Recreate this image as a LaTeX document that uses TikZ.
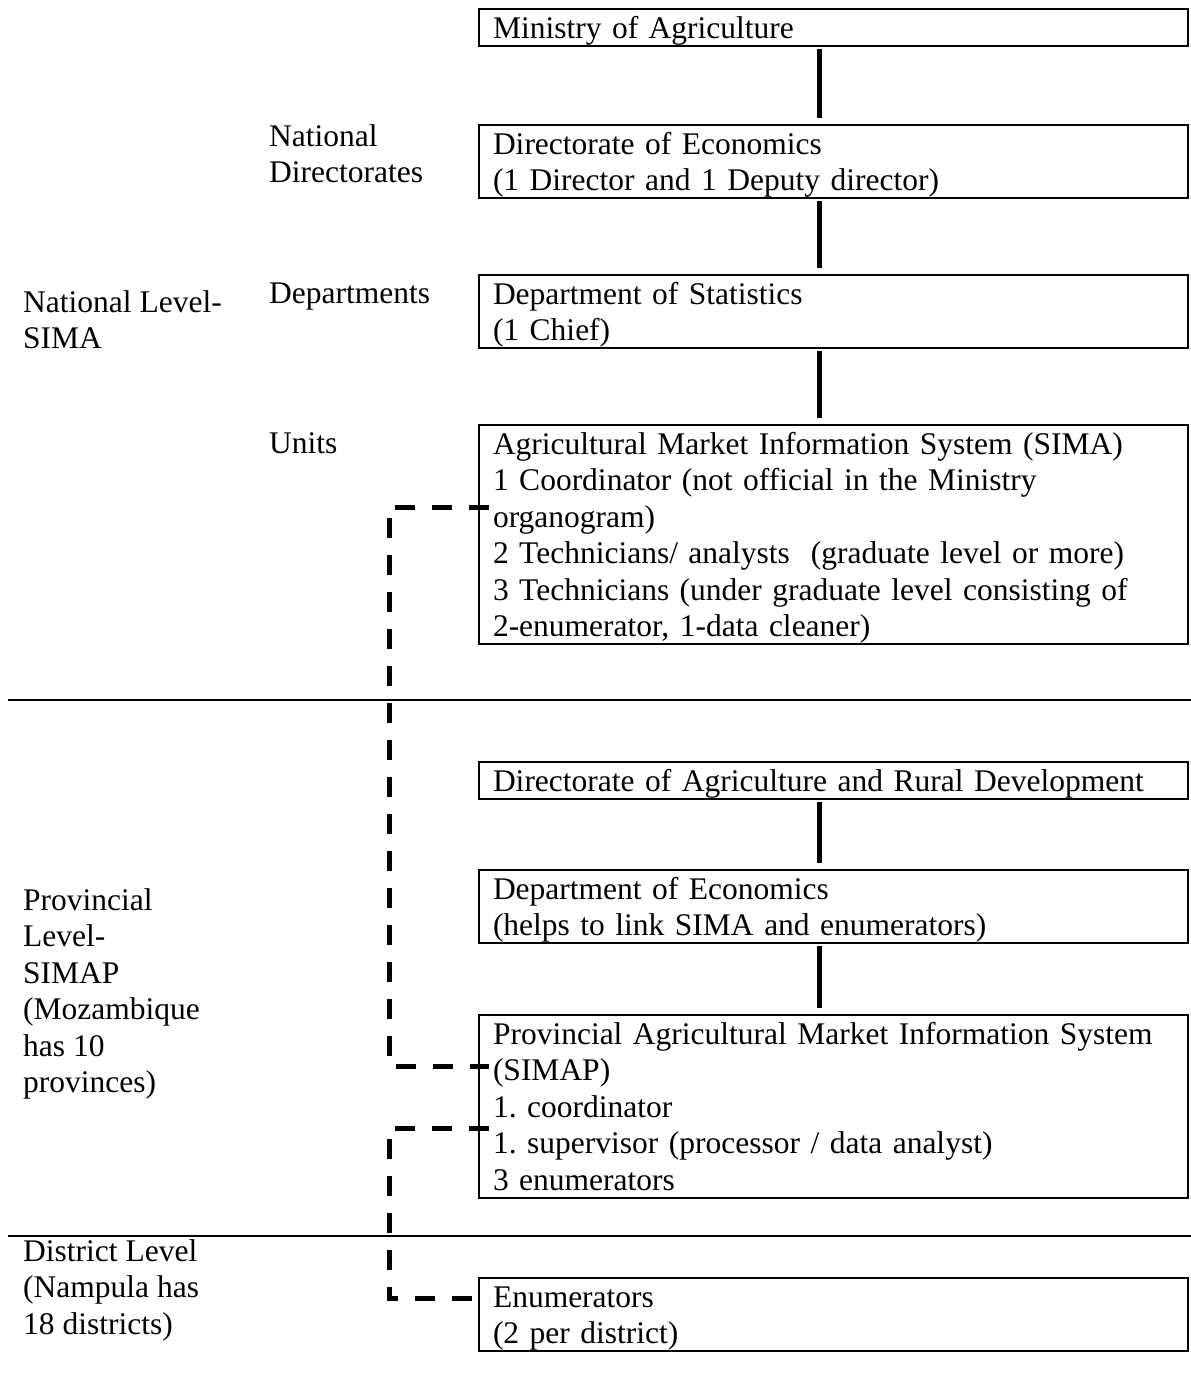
\documentclass[tikz,border=0pt]{standalone}
\usepackage{fontspec}
\setmainfont{Liberation Serif}
\usetikzlibrary{positioning}

\newcommand{\orgstrut}{\vrule height 29pt depth 7.5pt width 0pt}
\frenchspacing

\begin{document}
\begin{tikzpicture}[x=1pt,y=-1pt]
	 \tikzstyle{every node}=[font=\fontsize{31.5}{36.5}\selectfont]
	 \tikzstyle{unit box}=[draw,line width=2pt,anchor=north west,inner xsep=14pt,inner ysep=0pt,
	   text width=681pt,align=left,execute at begin node=\orgstrut,execute at end node=\orgstrut]
	 \tikzstyle{level label}=[anchor=north west,inner sep=0pt,align=left,
	   execute at begin node=\orgstrut,execute at end node=\orgstrut]

	 \tikzstyle{chain edge} = [-,black,line width=5pt,shorten <=2pt,shorten >=6pt]
	 \tikzstyle{report edge} = [draw,line width=5pt,-,black,dash pattern=on 20pt off 17pt,
	   shorten <=-11pt,shorten >=-11pt]
	 \tikzstyle{level rule} = [-,black,line width=2pt]

	 \useasboundingbox (0,0) rectangle (1191,1384);

	 \coordinate (spine) at (819,0);
	 \coordinate (trunk) at (389,0);

	 % national level
	 \node[unit box] (ministry) at (478,8) {Ministry of Agriculture};
	\node[unit box] (direcon) at (478,124) {Directorate of Economics\\(1 Director and 1 Deputy director)};
	\node[unit box] (depstat) at (478,274) {Department of Statistics\\(1 Chief)};
	\node[unit box] (sima) at (478,424) {Agricultural Market Information System (SIMA)\\
	  1 Coordinator (not official in the Ministry\\organogram)\\
	  2 Technicians/ analysts\ \ (graduate level or more)\\
	  3 Technicians (under graduate level consisting of\\2-enumerator, 1-data cleaner)};

	\node[level label] (natdir) at (269,124) {National\\Directorates};
	\node[level label] (depts) at (269,274) {Departments};
	\node[level label] (units) at (269,424) {Units};
	\node[level label] (natlevel) at (23,290) {National Level-\\SIMA};

	% provincial level
	\node[unit box] (diragr) at (478,761) {Directorate of Agriculture and Rural Development};
	\node[unit box] (depecon) at (478,869) {Department of Economics\\(helps to link SIMA and enumerators)};
	\node[unit box] (simap) at (478,1014) {Provincial Agricultural Market Information System\\(SIMAP)\\
	  1. coordinator\\1. supervisor (processor / data analyst)\\3 enumerators};
	\node[level label] (provlevel) at (23,888) {Provincial\\Level-\\SIMAP\\(Mozambique\\has 10\\provinces)};

	% district level
	\node[unit box] (enum) at (478,1277) {Enumerators\\(2 per district)};
	\node[level label] (distlevel) at (23,1239) {District Level\\(Nampula has\\18 districts)};

	\draw[level rule] (8,700) -- (1191,700);
	\draw[level rule] (8,1236) -- (1191,1236);

	\draw[chain edge] (ministry.south -| spine) -- (direcon.north -| spine);
	\draw[chain edge] (direcon.south -| spine) -- (depstat.north -| spine);
	\draw[chain edge] (depstat.south -| spine) -- (sima.north -| spine);
	\draw[chain edge] (diragr.south -| spine) -- (depecon.north -| spine);
	\draw[chain edge] (depecon.south -| spine) -- (simap.north -| spine);

	\draw[report edge] (sima.west |- 0,507) -| (trunk |- 0,1066) -- (simap.west |- 0,1066);
	\draw[report edge] (simap.west |- 0,1128) -| (trunk |- 0,1298) -- (enum.west |- 0,1298);
\end{tikzpicture}
\end{document}
